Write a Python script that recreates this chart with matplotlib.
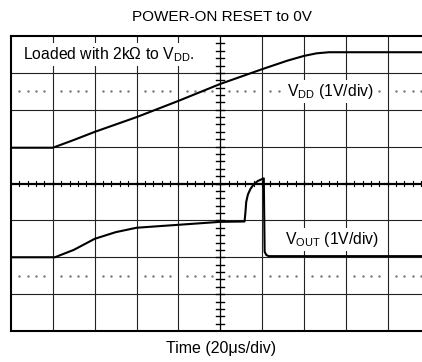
import matplotlib
matplotlib.use("Agg")
import matplotlib.pyplot as plt
import numpy as np

plt.rcParams['font.family'] = ['Liberation Sans', 'DejaVu Sans']
plt.rcParams['mathtext.fontset'] = 'custom'
plt.rcParams['mathtext.rm'] = 'Liberation Sans'
plt.rcParams['mathtext.it'] = 'Liberation Sans'

### trace data, in scope divisions (x: 20us/div, y: 1V/div) ###
t_vdd = [0, 1.0, 1.5, 2.0, 3.0, 4.0, 5.0, 6.0, 6.6, 7.0, 7.3, 7.6, 9.82]
v_vdd = [4.97, 4.97, 5.18, 5.40, 5.80, 6.24, 6.70, 7.10, 7.33, 7.46, 7.53, 7.56, 7.56]

t_out = [0, 1.05, 1.5, 2.0, 2.5, 3.0, 4.0, 5.0, 5.58, 5.60, 5.62, 5.66, 5.72,
         5.8, 5.9, 6.0, 6.04, 6.06, 6.1, 6.16, 9.82]
v_out = [2.0, 2.0, 2.2, 2.5, 2.68, 2.8, 2.88, 2.96, 2.97, 3.2, 3.5, 3.7, 3.85,
         3.98, 4.07, 4.12, 4.14, 2.15, 2.06, 2.03, 2.03]

title = "POWER-ON RESET to 0V"
xlabel = "Time (20\u03bcs/div)"
note = r"Loaded with 2k$\Omega$ to V$_{\mathrm{DD}}$."
lab_vdd = r"V$_{\mathrm{DD}}$ (1V/div)"
lab_out = r"V$_{\mathrm{OUT}}$ (1V/div)"

W, H = 422, 362
fig = plt.figure(figsize=(W / 100, H / 100), dpi=100)
ax = fig.add_axes([11 / W, 31 / H, 1 - 11 / W, 295 / H])
ax.set_xlim(0, 9.82)
ax.set_ylim(0, 8)
ax.set_xticks([])
ax.set_yticks([])
for s in ['left', 'top', 'bottom']:
    ax.spines[s].set_linewidth(1.5)
ax.spines['right'].set_visible(False)

# graticule
for gx in range(1, 10):
    if gx != 5:
        ax.axvline(gx, color='#222222', lw=0.8, zorder=1)
for gy in range(1, 8):
    if gy != 4:
        ax.axhline(gy, color='#222222', lw=0.8, zorder=1)
ax.axhline(4, color='black', lw=1.6, zorder=1)
ax.axvline(5, color='black', lw=0.9, zorder=1)

# minor ticks on center lines
mx = np.arange(0.2, 9.82, 0.2)
for x in mx:
    ax.plot([x, x], [3.93, 4.07], color='black', lw=0.8, zorder=1)
my = np.arange(0.2, 8, 0.2)
for y in my:
    ax.plot([4.9, 5.1], [y, y], color='black', lw=1.0, zorder=1)

# dotted rows
dots = [x for x in mx if abs(x - round(x)) > 0.05]
for row in [6.5, 1.5]:
    ax.plot(dots, [row] * len(dots), ls='none', marker='s', ms=0.7,
            color='#777777', zorder=1)

# traces
ax.plot(t_vdd, v_vdd, color='black', lw=1.5, zorder=3)
ax.plot(t_out, v_out, color='black', lw=1.5, zorder=3)

box = dict(facecolor='white', edgecolor='none', pad=1.5)
ax.text(0.29, 7.49, note, fontsize=11.3, ha='left', va='center', bbox=box, zorder=2)
ax.text(6.6, 6.49, lab_vdd, fontsize=11.3, ha='left', va='center', bbox=box, zorder=2)
ax.text(6.55, 2.47, lab_out, fontsize=11.3, ha='left', va='center', bbox=box, zorder=2)

fig.text(222 / W, 1 - 17 / H, title, fontsize=11, ha='center', va='center')
fig.text(221 / W, 1 - 348 / H, xlabel, fontsize=11.5, ha='center', va='center')

fig.savefig("out.png", dpi=100)
